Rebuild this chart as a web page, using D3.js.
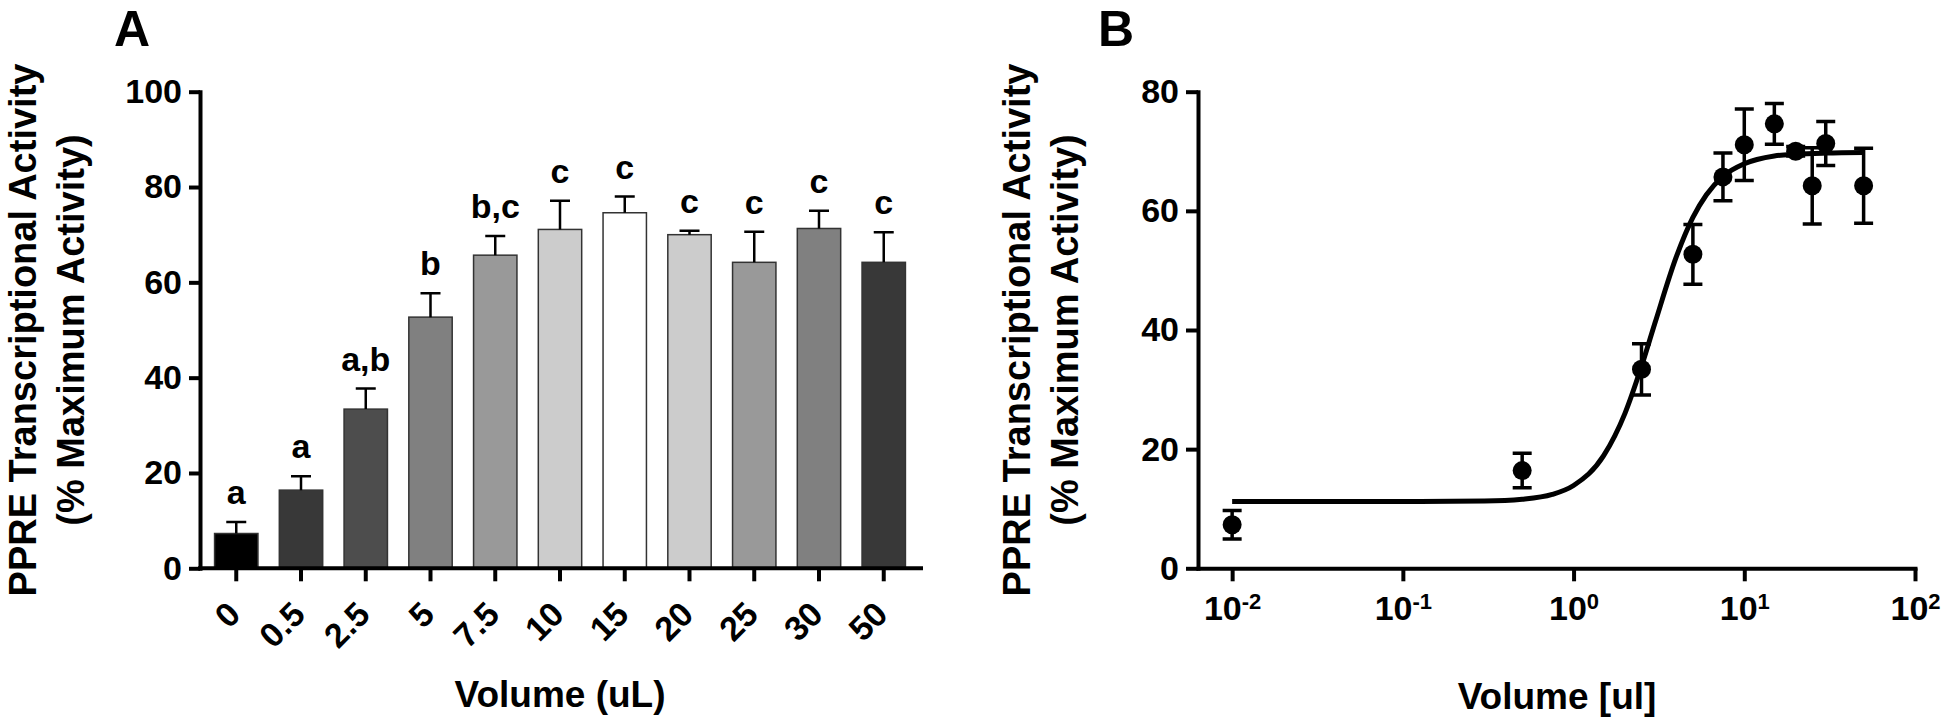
<!DOCTYPE html>
<html>
<head>
<meta charset="utf-8">
<script src="https://cdn.jsdelivr.net/npm/d3@7"></script>
<style>
    body { margin: 0; background: #fff; }
    text { font-family: "Liberation Sans", Arial, sans-serif; font-weight: bold; fill: #000; }
</style>
</head>
<body>
<div id="chart"></div>
<script>
// volumes tested (uL); 0 is put at 10^-2 on the log panel
var volumes = ["0", "0.5", "2.5", "5", "7.5", "10", "15", "20", "25", "30", "50"];
var volumeValues = [0.01, 0.5, 2.5, 5, 7.5, 10, 15, 20, 25, 30, 50];
var activity = [7.3, 16.4, 33.4, 52.7, 65.7, 71.1, 74.6, 70.0, 64.2, 71.3, 64.2];
var sem = [2.4, 2.9, 4.3, 5.0, 4.0, 6.0, 3.4, 0.8, 6.4, 3.7, 6.3];
var letters = ["a", "a", "a,b", "b", "b,c", "c", "c", "c", "c", "c", "c"];

// fitted dose-response curve
var curveX = [0.01, 0.1, 0.3, 0.5, 0.75, 1, 1.5, 2, 2.5, 3, 4, 5, 6, 7.5, 10, 15, 20, 30, 50];
var curveY = [11.2, 11.2, 11.3, 11.6, 12.4, 13.9, 18.9, 26.0, 33.9, 41.2, 52.3, 58.9, 62.7, 65.8, 67.9, 69.2, 69.5, 69.7, 69.8];

var yTicksA = [0, 20, 40, 60, 80, 100];
var yTicksB = [0, 20, 40, 60, 80];
var xTicksB = [0.01, 0.1, 1, 10, 100];

var barColors = ["#000000", "#383838", "#4d4d4d", "#808080", "#999999", "#cccccc", "#ffffff", "#cccccc", "#999999", "#808080", "#383838"];

var data = volumes.map((v, i) => ({label: v, x: volumeValues[i], y: activity[i], e: sem[i], letter: letters[i]}));

var svg = d3.select("#chart").append("svg")
    .attr("width", 1946)
    .attr("height", 724);

var y0 = 568.3;

function styleAxis(g) {
    g.select(".domain").attr("stroke", "#000").attr("stroke-width", 4).attr("stroke-linecap", "square");
    g.selectAll(".tick line").attr("stroke", "#000").attr("stroke-width", 4);
    g.selectAll(".tick text").style("font-size", "34px").attr("fill", "#000");
}

function yTitle(x, cy) {
    svg.append("text")
        .attr("transform", `translate(${x}, ${cy}) rotate(-90)`)
        .attr("text-anchor", "middle")
        .style("font-size", "38px")
        .text("PPRE Transcriptional Activity");
    svg.append("text")
        .attr("transform", `translate(${x + 48}, ${cy}) rotate(-90)`)
        .attr("text-anchor", "middle")
        .style("font-size", "38px")
        .text("(% Maximum Activity)");
}

// ---------------- Panel A : bars ----------------
var xA = d3.scaleBand().domain(volumes).range([200, 920]).paddingInner(0.33).paddingOuter(0.225);
var yA = d3.scaleLinear().domain([0, 100]).range([y0, 91.7]);

var gA = svg.append("g");

gA.selectAll("rect.bar")
    .data(data)
    .enter()
    .append("rect")
    .attr("class", "bar")
    .attr("x", d => xA(d.label))
    .attr("y", d => yA(d.y))
    .attr("width", xA.bandwidth())
    .attr("height", d => y0 - yA(d.y))
    .attr("fill", (d, i) => barColors[i])
    .attr("stroke", "#333")
    .attr("stroke-width", 1.5);

// upward error bars
var capA = 10;
gA.selectAll("path.err")
    .data(data)
    .enter()
    .append("path")
    .attr("class", "err")
    .attr("d", d => {
        let cx = xA(d.label) + xA.bandwidth() / 2;
        return `M${cx},${yA(d.y)}V${yA(d.y + d.e)}M${cx - capA},${yA(d.y + d.e)}H${cx + capA}`;
    })
    .attr("fill", "none")
    .attr("stroke", "#000")
    .attr("stroke-width", 2.5);

gA.selectAll("text.letter")
    .data(data)
    .enter()
    .append("text")
    .attr("class", "letter")
    .attr("x", d => xA(d.label) + xA.bandwidth() / 2)
    .attr("y", d => yA(d.y + d.e) - 18)
    .attr("text-anchor", "middle")
    .style("font-size", "34px")
    .text(d => d.letter);

var axA_y = gA.append("g")
    .attr("transform", "translate(200,0)")
    .call(d3.axisLeft(yA).tickValues(yTicksA).tickSize(11).tickSizeOuter(0).tickPadding(7));
styleAxis(axA_y);

var axA_x = gA.append("g")
    .attr("transform", `translate(0,${y0})`)
    .call(d3.axisBottom(xA).tickSize(13).tickSizeOuter(0));
styleAxis(axA_x);
axA_x.select(".domain").attr("d", `M200,0H921`);
axA_x.selectAll(".tick text")
    .attr("x", 0)
    .attr("y", 0)
    .attr("dy", 0)
    .attr("text-anchor", "end")
    .attr("transform", "translate(6,48) rotate(-45)");

gA.append("text")
    .attr("x", 560)
    .attr("y", 707)
    .attr("text-anchor", "middle")
    .style("font-size", "37px")
    .text("Volume (uL)");

svg.append("text")
    .attr("x", 114)
    .attr("y", 46)
    .style("font-size", "50px")
    .text("A");

yTitle(36, 330);

// ---------------- Panel B : dose response ----------------
var xB = d3.scaleLog().domain([Math.pow(10, -2.2), 100]).range([1198, 1915]);
var yB = d3.scaleLinear().domain([0, 80]).range([y0, 91.7]);

var gB = svg.append("g");

var line = d3.line()
    .x((d, i) => xB(curveX[i]))
    .y(d => yB(d))
    .curve(d3.curveMonotoneX);

gB.append("path")
    .datum(curveY)
    .attr("d", line)
    .attr("fill", "none")
    .attr("stroke", "#000")
    .attr("stroke-width", 5);

var capB = 9.5;
gB.selectAll("path.err")
    .data(data)
    .enter()
    .append("path")
    .attr("class", "err")
    .attr("d", d => {
        let cx = xB(d.x);
        let hi = yB(d.y + d.e), lo = yB(d.y - d.e);
        return `M${cx},${lo}V${hi}M${cx - capB},${hi}H${cx + capB}M${cx - capB},${lo}H${cx + capB}`;
    })
    .attr("fill", "none")
    .attr("stroke", "#000")
    .attr("stroke-width", 3.5);

gB.selectAll("circle")
    .data(data)
    .enter()
    .append("circle")
    .attr("cx", d => xB(d.x))
    .attr("cy", d => yB(d.y))
    .attr("r", 9.5)
    .attr("fill", "#000");

var axB_y = gB.append("g")
    .attr("transform", "translate(1198,0)")
    .call(d3.axisLeft(yB).tickValues(yTicksB).tickSize(12).tickSizeOuter(0).tickPadding(7));
styleAxis(axB_y);

var axB_x = gB.append("g")
    .attr("transform", `translate(0,${y0})`)
    .call(d3.axisBottom(xB).tickValues(xTicksB).tickSize(13).tickSizeOuter(0));
styleAxis(axB_x);
axB_x.selectAll(".tick text")
    .attr("y", 52)
    .attr("dy", 0)
    .attr("text-anchor", "middle")
    .each(function(d) {
        let t = d3.select(this);
        t.text(null);
        t.append("tspan").text("10");
        t.append("tspan").attr("dy", -11).style("font-size", "22px").text(Math.round(Math.log10(d)));
    });

gB.append("text")
    .attr("x", 1557)
    .attr("y", 709)
    .attr("text-anchor", "middle")
    .style("font-size", "37px")
    .text("Volume [ul]");

svg.append("text")
    .attr("x", 1098)
    .attr("y", 46)
    .style("font-size", "50px")
    .text("B");

yTitle(1030, 330);
</script>
</body>
</html>
